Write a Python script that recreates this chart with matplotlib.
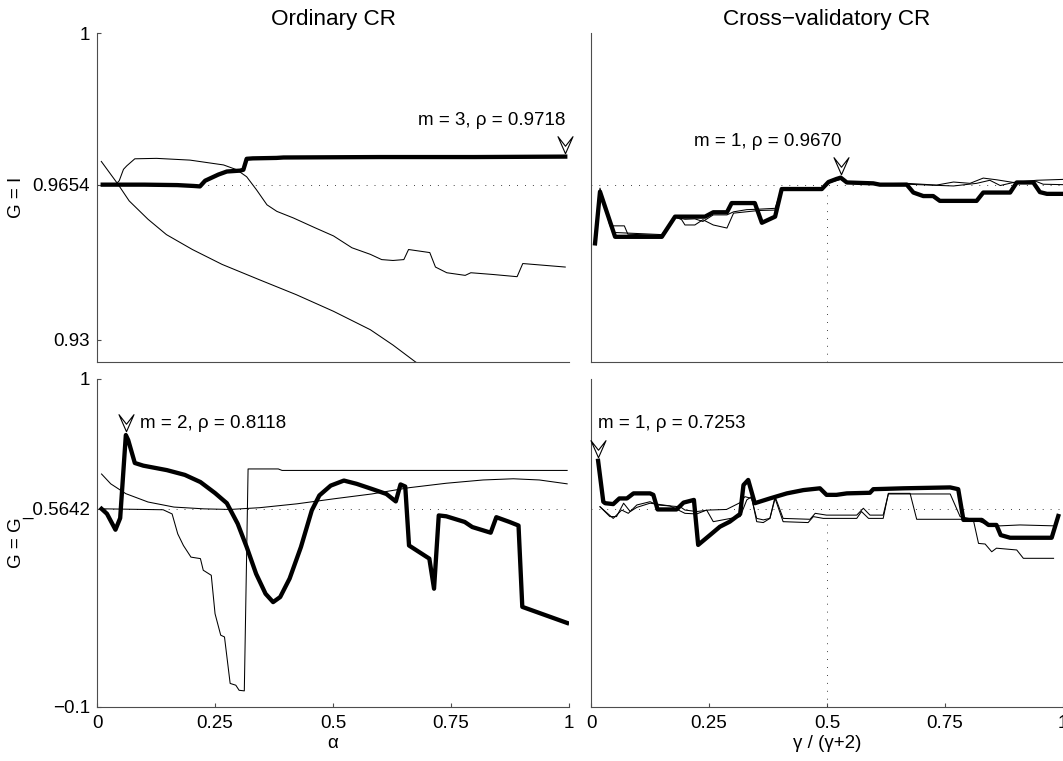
"""
Continuum regression: prediction quality against the mixing parameter,
ordinary CR (left) and cross-validatory CR (right), for two choices of G.
"""

import numpy as np
import matplotlib
matplotlib.use('Agg')
import matplotlib.pyplot as plt
from matplotlib.path import Path

plt.rcParams['font.family'] = ['Liberation Sans', 'DejaVu Sans']
plt.rcParams['font.size'] = 13.5

# reference levels (dotted lines) and y ranges
TOP_REF = 0.9654
BOT_REF = 0.5642
TOP_YLIM = (0.925, 1.0)
BOT_YLIM = (-0.1, 1.0)
TOP_YTICKS = [0.93, 0.9654, 1]
TOP_YTICKLABELS = ['0.93', '0.9654', '1']
BOT_YTICKS = [-0.1, 0.5642, 1]
BOT_YTICKLABELS = ['\u22120.1', '_0.5642', '1']
XTICKS = [0, 0.25, 0.5, 0.75, 1]
XTICKLABELS = ['0', '0.25', '0.5', '0.75', '1']

# value of the cross-validatory curve at gamma = 2
TOP_GAMMA2 = 0.963
BOT_GAMMA2 = 0.538

# chosen number of components for each panel (TL, TR, BL, BR)
M_CHOSEN = [3, 1, 2, 1]

# --- G = I, ordinary CR ---
tl_thick_x = [0.012, 0.10, 0.17, 0.205, 0.218, 0.229, 0.243, 0.257, 0.275, 0.303, 0.310,
              0.317, 0.33, 0.38, 0.395, 0.6, 0.8, 0.992]
tl_thick_y = [0.9654, 0.9654, 0.9653, 0.9651, 0.9650, 0.9663, 0.9670, 0.9677, 0.9684, 0.9686,
              0.9688, 0.9713, 0.9714, 0.9715, 0.9716, 0.9717, 0.9717, 0.9718]
tl_a_x = [0.009, 0.045, 0.068, 0.108, 0.147, 0.202, 0.265, 0.344, 0.422, 0.501, 0.579,
          0.627, 0.674, 0.70]
tl_a_y = [0.9707, 0.9654, 0.9617, 0.9575, 0.9540, 0.9506, 0.9472, 0.9437, 0.9403, 0.9365,
          0.9323, 0.9288, 0.9250, 0.9232]
tl_b_x = [0.012, 0.040, 0.047, 0.056, 0.063, 0.080, 0.126, 0.197, 0.268, 0.296, 0.317,
          0.338, 0.360, 0.381, 0.416, 0.461, 0.501, 0.540, 0.579, 0.603, 0.627, 0.650,
          0.660, 0.705, 0.717, 0.741, 0.780, 0.792, 0.839, 0.890, 0.902, 0.992]
tl_b_y = [0.9654, 0.9655, 0.9663, 0.9689, 0.9697, 0.9713, 0.9714, 0.9710, 0.9699, 0.9688,
          0.9672, 0.9642, 0.9608, 0.9593, 0.9578, 0.9556, 0.9537, 0.9510, 0.9495, 0.9483,
          0.9481, 0.9483, 0.9506, 0.9499, 0.9466, 0.9453, 0.9447, 0.9453, 0.9449, 0.9444,
          0.9474, 0.9466]

# --- G = I, cross-validatory CR ---
tr_thick_x = [0.0085, 0.019, 0.051, 0.150, 0.178, 0.2415, 0.259, 0.288, 0.298, 0.347,
              0.362, 0.390, 0.404, 0.420, 0.489, 0.503, 0.520, 0.529, 0.542, 0.598, 0.612,
              0.669, 0.683, 0.704, 0.725, 0.739, 0.817, 0.831, 0.888, 0.902, 0.937, 0.951,
              0.966, 1.0]
tr_thick_y = [0.9520, 0.9638, 0.9535, 0.9535, 0.9581, 0.9581, 0.9591, 0.9591, 0.9612,
              0.9612, 0.9567, 0.9581, 0.9644, 0.9644, 0.9644, 0.9660, 0.9667, 0.9670,
              0.9659, 0.9657, 0.9654, 0.9654, 0.9636, 0.9628, 0.9628, 0.9617, 0.9617,
              0.9636, 0.9636, 0.9659, 0.9659, 0.9637, 0.9633, 0.9633]
tr_a_x = [0.0085, 0.019, 0.040, 0.0706, 0.078, 0.150, 0.178, 0.192, 0.199, 0.220, 0.237,
          0.259, 0.288, 0.302, 0.355, 0.390, 0.404, 0.489, 0.503, 0.529, 0.542, 0.598,
          0.669, 0.732, 0.768, 0.803, 0.831, 0.860, 0.895, 0.944, 1.0]
tr_a_y = [0.9525, 0.9646, 0.9560, 0.9560, 0.9541, 0.9538, 0.9581, 0.9574, 0.9562, 0.9562,
          0.9574, 0.9562, 0.9555, 0.9589, 0.9595, 0.9596, 0.9644, 0.9644, 0.9658, 0.9666,
          0.9658, 0.9656, 0.9657, 0.9653, 0.9660, 0.9657, 0.9669, 0.9665, 0.9659, 0.9664,
          0.9666]
tr_b_x = [0.0085, 0.019, 0.047, 0.150, 0.178, 0.199, 0.220, 0.237, 0.259, 0.288, 0.302,
          0.330, 0.355, 0.390, 0.404, 0.489, 0.503, 0.529, 0.542, 0.598, 0.669, 0.768,
          0.817, 0.845, 0.867, 0.895, 0.944, 0.958, 1.0]
tr_b_y = [0.9528, 0.9640, 0.9545, 0.9540, 0.9580, 0.9575, 0.9576, 0.9570, 0.9585, 0.9585,
          0.9592, 0.9597, 0.9598, 0.9600, 0.9646, 0.9646, 0.9659, 0.9668, 0.9657, 0.9655,
          0.9655, 0.9651, 0.9657, 0.9664, 0.9652, 0.9659, 0.9661, 0.9655, 0.9654]

# --- G = G, ordinary CR ---
bl_thick_x = [0.0095, 0.021, 0.039, 0.049, 0.061, 0.066, 0.080, 0.098, 0.148, 0.186,
              0.219, 0.250, 0.275, 0.298, 0.317, 0.337, 0.357, 0.373, 0.388, 0.408, 0.432,
              0.455, 0.471, 0.495, 0.523, 0.550, 0.582, 0.613, 0.633, 0.643, 0.653, 0.661,
              0.704, 0.714, 0.724, 0.740, 0.779, 0.795, 0.834, 0.846, 0.874, 0.893, 0.901,
              0.996]
bl_thick_y = [0.5642, 0.5475, 0.494, 0.533, 0.8118, 0.795, 0.718, 0.709, 0.694, 0.678,
              0.654, 0.617, 0.583, 0.514, 0.436, 0.346, 0.279, 0.251, 0.268, 0.330, 0.436,
              0.559, 0.609, 0.642, 0.659, 0.648, 0.631, 0.614, 0.589, 0.646, 0.639, 0.441,
              0.397, 0.296, 0.542, 0.539, 0.520, 0.503, 0.484, 0.536, 0.520, 0.508, 0.235,
              0.181]
bl_c_x = [0.0095, 0.140, 0.159, 0.171, 0.183, 0.199, 0.219, 0.225, 0.242, 0.250, 0.262,
          0.270, 0.282, 0.294, 0.301, 0.312, 0.320, 0.384, 0.392, 0.996]
bl_c_y = [0.5642, 0.561, 0.547, 0.480, 0.441, 0.402, 0.397, 0.358, 0.341, 0.212, 0.140,
          0.134, -0.022, -0.028, -0.045, -0.047, 0.698, 0.698, 0.693, 0.693]
bl_d_x = [0.0095, 0.029, 0.061, 0.108, 0.163, 0.227, 0.282, 0.345, 0.424, 0.503, 0.582,
          0.661, 0.740, 0.818, 0.882, 0.937, 0.996]
bl_d_y = [0.681, 0.648, 0.615, 0.587, 0.570, 0.564, 0.562, 0.568, 0.581, 0.598, 0.614,
          0.635, 0.650, 0.661, 0.665, 0.661, 0.648]

# --- G = G, cross-validatory CR ---
br_thick_x = [0.015, 0.026, 0.030, 0.047, 0.060, 0.076, 0.090, 0.125, 0.132, 0.141, 0.181,
              0.189, 0.196, 0.218, 0.227, 0.252, 0.273, 0.294, 0.316, 0.323, 0.333, 0.347,
              0.379, 0.415, 0.450, 0.485, 0.499, 0.520, 0.542, 0.591, 0.598, 0.662, 0.761,
              0.778, 0.789, 0.828, 0.842, 0.859, 0.868, 0.888, 0.976, 0.990]
br_thick_y = [0.7253, 0.588, 0.583, 0.580, 0.599, 0.599, 0.616, 0.616, 0.611, 0.562, 0.562,
              0.574, 0.585, 0.594, 0.443, 0.476, 0.504, 0.521, 0.547, 0.644, 0.661, 0.583,
              0.599, 0.616, 0.627, 0.633, 0.611, 0.611, 0.616, 0.618, 0.630, 0.633, 0.636,
              0.630, 0.527, 0.527, 0.510, 0.510, 0.476, 0.467, 0.467, 0.540]
br_e_x = [0.019, 0.040, 0.054, 0.069, 0.083, 0.097, 0.125, 0.167, 0.199, 0.224, 0.245,
          0.259, 0.316, 0.330, 0.340, 0.351, 0.365, 0.379, 0.390, 0.407, 0.460, 0.471,
          0.492, 0.563, 0.573, 0.588, 0.619, 0.630, 0.676, 0.690, 0.782, 0.810, 0.821,
          0.835, 0.849, 0.859, 0.902, 0.916, 0.980]
br_e_y = [0.571, 0.538, 0.538, 0.583, 0.555, 0.569, 0.583, 0.574, 0.549, 0.547, 0.560,
          0.521, 0.538, 0.594, 0.605, 0.521, 0.518, 0.532, 0.599, 0.521, 0.518, 0.538,
          0.532, 0.532, 0.555, 0.532, 0.532, 0.616, 0.616, 0.529, 0.529, 0.527, 0.448,
          0.446, 0.420, 0.432, 0.426, 0.398, 0.398]
br_f_x = [0.019, 0.047, 0.065, 0.079, 0.097, 0.125, 0.141, 0.189, 0.199, 0.224, 0.249,
          0.287, 0.316, 0.326, 0.340, 0.351, 0.365, 0.379, 0.390, 0.407, 0.464, 0.475,
          0.499, 0.563, 0.577, 0.591, 0.619, 0.630, 0.761, 0.782, 0.814, 0.842, 0.867,
          0.909, 0.980]
br_f_y = [0.571, 0.532, 0.560, 0.549, 0.577, 0.588, 0.577, 0.571, 0.560, 0.555, 0.560,
          0.562, 0.585, 0.605, 0.599, 0.532, 0.527, 0.532, 0.605, 0.532, 0.529, 0.549,
          0.543, 0.543, 0.566, 0.543, 0.543, 0.614, 0.614, 0.538, 0.527, 0.510, 0.507,
          0.510, 0.507]

SPINE_COLOR = '#4d4d4d'
THICK_LW = 3.1
THIN_LW = 0.75
DOT_STYLE = dict(color='k', lw=0.6, linestyle=(0, (1, 8.5)))

# open arrowhead marker pointing down, tip just above the data point
ARROW = Path([(-0.36, 1.0), (0.0, 0.18), (0.36, 1.0), (0.0, 0.54), (-0.36, 1.0)],
             [Path.MOVETO, Path.LINETO, Path.LINETO, Path.LINETO, Path.CLOSEPOLY])


def style_axes(ax, ylim, yticks=None, yticklabels=None, xlabels=False):
    ax.set_xlim(0, 1)
    ax.set_ylim(*ylim)
    for side in ('top', 'right'):
        ax.spines[side].set_visible(False)
    for side in ('left', 'bottom'):
        ax.spines[side].set_color(SPINE_COLOR)
        ax.spines[side].set_linewidth(0.8)
    ax.tick_params(direction='in', length=3, width=0.8, color=SPINE_COLOR, pad=5)
    ax.tick_params(axis='x', pad=6)
    if yticks is None:
        ax.set_yticks([])
    else:
        ax.set_yticks(yticks)
        ax.set_yticklabels(yticklabels)
    if xlabels:
        ax.set_xticks(XTICKS)
        ax.set_xticklabels(XTICKLABELS)
    else:
        ax.set_xticks([])


def mark_best(ax, xs, ys, m, dx, dy, ha):
    i = int(np.argmax(ys))
    ax.plot(xs[i], ys[i], marker=ARROW, ms=30, mfc='white', mec='k', mew=0.8,
            linestyle='none', zorder=5, clip_on=False)
    ax.annotate(f'm = {m}, \u03c1 = {ys[i]:.4f}', xy=(xs[i], ys[i]), xytext=(dx, dy),
                textcoords='offset points', ha=ha, va='center', annotation_clip=False)


def main():
    fig = plt.figure(figsize=(10.63, 7.61), dpi=100)
    ax_tl = fig.add_axes([0.0913, 0.5247, 0.444, 0.4319])
    ax_tr = fig.add_axes([0.556, 0.5247, 0.444, 0.4319])
    ax_bl = fig.add_axes([0.0913, 0.0714, 0.444, 0.4306])
    ax_br = fig.add_axes([0.556, 0.0714, 0.444, 0.4306])

    # top left
    ax_tl.plot([0, 1], [TOP_REF, TOP_REF], **DOT_STYLE)
    ax_tl.plot(tl_a_x, tl_a_y, 'k-', lw=THIN_LW)
    ax_tl.plot(tl_b_x, tl_b_y, 'k-', lw=THIN_LW)
    ax_tl.plot(tl_thick_x, tl_thick_y, 'k-', lw=THICK_LW)
    style_axes(ax_tl, TOP_YLIM, TOP_YTICKS, TOP_YTICKLABELS)
    mark_best(ax_tl, tl_thick_x, tl_thick_y, M_CHOSEN[0], 0, 26, 'right')
    ax_tl.set_title('Ordinary CR', pad=6)
    ax_tl.set_ylabel('G = I')
    ax_tl.yaxis.set_label_coords(-0.1525, 0.5)

    # top right
    ax_tr.plot([0, 1], [TOP_REF, TOP_REF], **DOT_STYLE)
    ax_tr.plot([0.5, 0.5], [TOP_YLIM[0], TOP_GAMMA2], **DOT_STYLE)
    ax_tr.plot(tr_a_x, tr_a_y, 'k-', lw=THIN_LW)
    ax_tr.plot(tr_b_x, tr_b_y, 'k-', lw=THIN_LW)
    ax_tr.plot(tr_thick_x, tr_thick_y, 'k-', lw=THICK_LW)
    style_axes(ax_tr, TOP_YLIM)
    mark_best(ax_tr, tr_thick_x, tr_thick_y, M_CHOSEN[1], 0.7, 26, 'right')
    ax_tr.set_title('Cross\u2212validatory CR', pad=6)

    # bottom left
    ax_bl.plot([0, 1], [BOT_REF, BOT_REF], **DOT_STYLE)
    ax_bl.plot(bl_c_x, bl_c_y, 'k-', lw=THIN_LW)
    ax_bl.plot(bl_d_x, bl_d_y, 'k-', lw=THIN_LW)
    ax_bl.plot(bl_thick_x, bl_thick_y, 'k-', lw=THICK_LW)
    style_axes(ax_bl, BOT_YLIM, BOT_YTICKS, BOT_YTICKLABELS, xlabels=True)
    mark_best(ax_bl, bl_thick_x, bl_thick_y, M_CHOSEN[2], 10, 8.6, 'left')
    ax_bl.set_xlabel('\u03b1', labelpad=2)
    ax_bl.set_ylabel('G = G')
    ax_bl.yaxis.set_label_coords(-0.1525, 0.5)

    # bottom right
    ax_br.plot([0, 1], [BOT_REF, BOT_REF], **DOT_STYLE)
    ax_br.plot([0.5, 0.5], [BOT_YLIM[0], BOT_GAMMA2], **DOT_STYLE)
    ax_br.plot(br_e_x, br_e_y, 'k-', lw=THIN_LW)
    ax_br.plot(br_f_x, br_f_y, 'k-', lw=THIN_LW)
    ax_br.plot(br_thick_x, br_thick_y, 'k-', lw=THICK_LW)
    style_axes(ax_br, BOT_YLIM, xlabels=True)
    mark_best(ax_br, br_thick_x, br_thick_y, M_CHOSEN[3], 0, 27, 'left')
    ax_br.set_xlabel('\u03b3 / (\u03b3+2)', labelpad=2)

    fig.savefig('out.png', dpi=100)
    plt.close(fig)


if __name__ == '__main__':
    main()
